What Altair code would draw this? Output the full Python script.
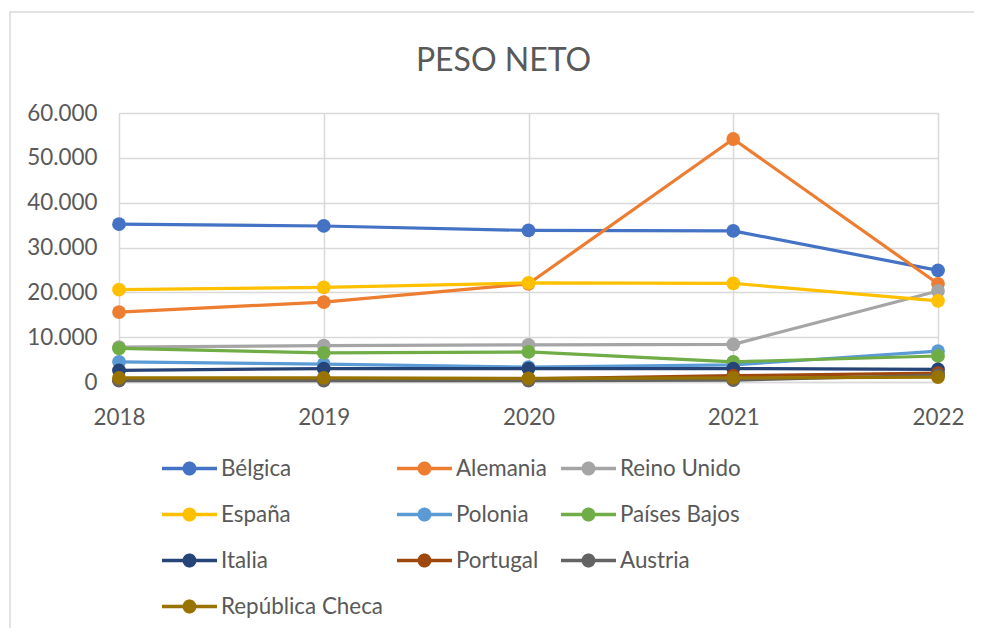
import altair as alt
import pandas as pd

years = [2018, 2019, 2020, 2021, 2022]
countries = ["Bélgica", "Alemania", "Reino Unido", "España", "Polonia",
             "Países Bajos", "Italia", "Portugal", "Austria", "República Checa"]
colors = ["#4472C4", "#ED7D31", "#A5A5A5", "#FFC000", "#5B9BD5",
          "#70AD47", "#264478", "#9E480E", "#636363", "#997300"]

belgica = [35200, 34800, 33800, 33700, 24900]
alemania = [15600, 17800, 21900, 54200, 21900]
reino_unido = [7800, 8100, 8300, 8400, 20300]
espana = [20600, 21100, 22100, 22000, 18100]
polonia = [4500, 4000, 3300, 3800, 6900]
paises_bajos = [7500, 6500, 6700, 4500, 5800]
italia = [2600, 3000, 3000, 3000, 2800]
portugal = [400, 600, 700, 1400, 2000]
austria = [300, 300, 300, 400, 1500]
rep_checa = [900, 900, 800, 900, 1100]

series = [belgica, alemania, reino_unido, espana, polonia,
          paises_bajos, italia, portugal, austria, rep_checa]

rows = []
for c, vals in zip(countries, series):
    for y, v in zip(years, vals):
        rows.append({"country": c, "year": y, "value": v})
df = pd.DataFrame(rows)

GREY = "#595959"
GRID = "#D9D9D9"
FONT = "Lato"

r, t = 0.255, 0.064
xi = (r * r - t * t) ** 0.5
legend_path = (f"M-1,{-t}L{-xi:.4f},{-t}A{r},{r} 0 0 1 {xi:.4f},{-t}L1,{-t}"
               f"L1,{t}L{xi:.4f},{t}A{r},{r} 0 0 1 {-xi:.4f},{t}L-1,{t}Z")

color_enc = alt.Color(
    "country:N",
    scale=alt.Scale(domain=countries, range=colors),
    legend=alt.Legend(
        orient="none", legendX=43, legendY=328, columns=3, direction="horizontal",
        gridAlign="each", columnPadding=14, rowPadding=7, symbolType=legend_path,
        symbolSize=3025, symbolStrokeWidth=0, symbolOpacity=1,
        labelFont=FONT, labelFontSize=22.4, labelColor=GREY, labelOffset=4,
        title=None, labelLimit=400,
    ),
)

x_enc = alt.X(
    "year:Q",
    scale=alt.Scale(domain=[2018, 2022], nice=False, zero=False),
    axis=alt.Axis(values=years, format="d", title=None, grid=True,
                  gridColor=GRID, gridWidth=1.5, domainColor=GRID,
                  domainWidth=1.5, ticks=False, labelPadding=24, labelFlush=False,
                  labelFont=FONT, labelFontSize=22.4, labelColor=GREY),
)
y_enc = alt.Y(
    "value:Q",
    scale=alt.Scale(domain=[0, 60000], nice=False),
    axis=alt.Axis(values=[0, 10000, 20000, 30000, 40000, 50000, 60000],
                  title=None, grid=True, gridColor=GRID, gridWidth=1.5,
                  domain=False, ticks=False, labelPadding=22,
                  labelFont=FONT, labelFontSize=22.4, labelColor=GREY,
                  labelExpr="replace(format(datum.value, ',.0f'), ',', '.')"),
)

frame = alt.Chart(pd.DataFrame({"a": [0]})).mark_rect(
    fill=None, stroke=GRID, strokeWidth=1.5
).encode(x=alt.value(-109), y=alt.value(-101), x2=alt.value(900), y2=alt.value(600))

layers = [frame]
for c in countries:
    base = alt.Chart(df).transform_filter(alt.datum.country == c)
    layers.append(base.mark_point(filled=True, size=190, opacity=1).encode(
        x=x_enc, y=y_enc, color=color_enc))
    layers.append(base.mark_line(strokeWidth=3.2, strokeCap="round",
                                 strokeJoin="round").encode(
        x=x_enc, y=y_enc, color=color_enc))

chart = alt.layer(*layers).properties(
    width=819, height=269,
    title=alt.TitleParams("PESO NETO", font=FONT, fontSize=32,
                          fontWeight="normal", color=GREY, anchor="middle",
                          baseline="alphabetic", dx=-25, dy=92, offset=0),
    autosize=alt.AutoSizeParams(type="none"),
    padding={"left": 111, "top": 105, "right": 36, "bottom": 246},
).configure_view(stroke=None).configure(background="white")

chart.save("out.html", embed_options={"renderer": "svg", "actions": False})
